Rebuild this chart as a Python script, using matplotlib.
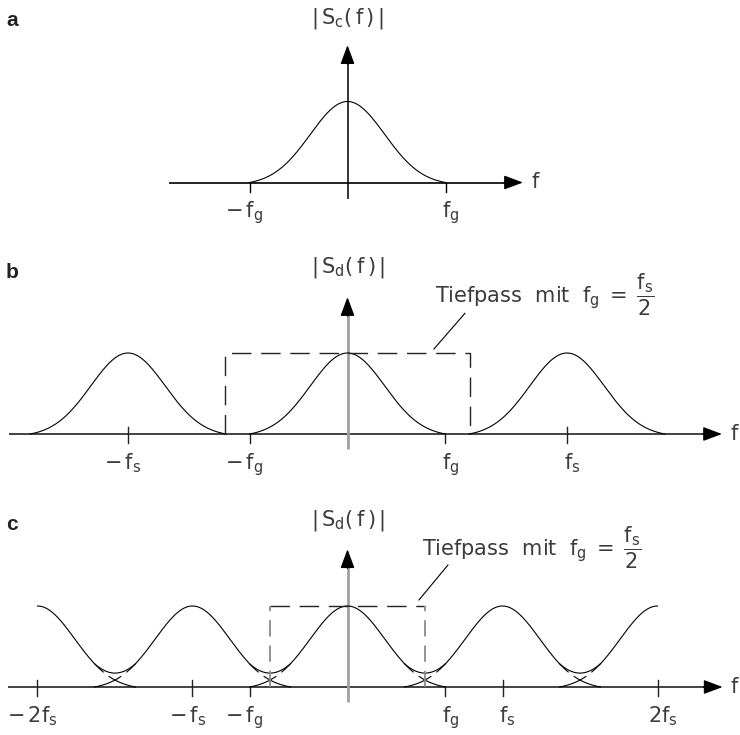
import numpy as np
import matplotlib
matplotlib.use("Agg")
import matplotlib.pyplot as plt

# ------------------------------------------------------------------
# Data
# ------------------------------------------------------------------
# panel a  (frequency unit: f_g)
a_centers = [0.0]
a_fg = 1.0
a_peak = 1.0
a_ticks = [-1.0, 1.0]
a_tick_cross = [False, False]
a_ticklabels = [r"$-\,\mathrm{f}_\mathrm{g}$", r"$\mathrm{f}_\mathrm{g}$"]
a_ylabel = r"$|\,\mathrm{S}_\mathrm{c}(\,\mathrm{f}\,)\,|$"

# panel b  (frequency unit: f_s)
b_centers = [-1.0, 0.0, 1.0]
b_fg = 0.446
b_peak = 1.0
b_lowpass_edge = 0.557
b_ticks = [-1.0, -0.446, 0.446, 1.0]
b_tick_cross = [True, False, False, True]
b_ticklabels = [r"$-\,\mathrm{f}_\mathrm{s}$", r"$-\,\mathrm{f}_\mathrm{g}$",
                r"$\mathrm{f}_\mathrm{g}$", r"$\mathrm{f}_\mathrm{s}$"]
b_ylabel = r"$|\,\mathrm{S}_\mathrm{d}(\,\mathrm{f}\,)\,|$"

# panel c  (frequency unit: f_s)
c_centers = [-2.0, -1.0, 0.0, 1.0, 2.0]
c_fg = 0.632
c_peak = 1.0
c_lowpass_edge = 0.5
c_ticks = [-2.0, -1.0, -0.632, 0.632, 1.0, 2.0]
c_tick_cross = [True, True, False, False, True, True]
c_ticklabels = [r"$-\,2\mathrm{f}_\mathrm{s}$", r"$-\,\mathrm{f}_\mathrm{s}$",
                r"$-\,\mathrm{f}_\mathrm{g}$", r"$\mathrm{f}_\mathrm{g}$",
                r"$\mathrm{f}_\mathrm{s}$", r"$2\mathrm{f}_\mathrm{s}$"]
c_ylabel = b_ylabel

pulse_sigma = 0.38          # width of the spectrum pulse (relative to f_g)
lowpass_text = (r"Tiefpass  mit  $\mathrm{f}_\mathrm{g}\;=\;"
                r"\dfrac{\mathrm{f}_\mathrm{s}}{2}$")

# ------------------------------------------------------------------
W, H, DPI = 740, 735, 100
plt.rcParams["font.family"] = ["DejaVu Sans"]
plt.rcParams["mathtext.fontset"] = "custom"
plt.rcParams["mathtext.rm"] = "DejaVu Sans"
plt.rcParams["mathtext.it"] = "DejaVu Sans"
TXT = "#3c3c3c"
FS = 15

fig = plt.figure(figsize=(W / DPI, H / DPI), dpi=DPI)
fig.patch.set_facecolor("white")


def pulse(x, center, fg, peak, sigma=pulse_sigma):
    u = (x - center) / fg
    e1 = np.exp(-1.0 / (2 * sigma ** 2))
    g = (np.exp(-u ** 2 / (2 * sigma ** 2)) - e1) / (1 - e1)
    return np.where(np.abs(u) <= 1, peak * g, 0.0)


def make_ax(top_px, bot_px, sx, base_px, sy=81.0, cx=347.5):
    ax = fig.add_axes([0, 1 - bot_px / H, 1, (bot_px - top_px) / H])
    ax.set_xlim(-cx / sx, (W - cx) / sx)
    ax.set_ylim(-(bot_px - base_px) / sy, (base_px - top_px) / sy)
    ax.axis("off")
    return ax, sx, sy


HEAD = "-|>,head_length=0.4,head_width=0.15"


def axes_frame(ax, sx, sy, xmin, xmax, ymin, ymax, flabel_x, yax_color, yax_lw,
               base_color, ticks, cross, labels, ylabel, ylabel_y):
    # x axis
    ax.plot([xmin, xmax - 15 / sx], [0, 0], color=base_color, lw=1.2,
            solid_capstyle="butt")
    ax.annotate("", xy=(xmax, 0), xytext=(xmax - 19 / sx, 0),
                arrowprops=dict(arrowstyle=HEAD, mutation_scale=29, lw=1.0,
                                color="black", shrinkA=0, shrinkB=0))
    ax.text(flabel_x, 0, r"$\mathrm{f}$", fontsize=FS, color=TXT,
            ha="center", va="center")
    # y axis
    head = 17 / sy
    ax.plot([0, 0], [ymin, ymax - head], color=yax_color, lw=yax_lw,
            solid_capstyle="butt")
    ax.annotate("", xy=(0, ymax), xytext=(0, ymax - head - 2 / sy),
                arrowprops=dict(arrowstyle=HEAD, mutation_scale=29, lw=1.0,
                                color="black", shrinkA=0, shrinkB=0))
    ax.text(0, ylabel_y, ylabel, fontsize=FS, color=TXT, ha="center", va="center")
    # ticks
    for t, cr, lab in zip(ticks, cross, labels):
        top = 7 / sy if cr else 0.0
        ax.plot([t, t], [top, -9 / sy], color=base_color, lw=1.0)
        dx = -5 if lab.startswith("$-") else 5
        ax.text(t + dx / sx, -17 / sy, lab, fontsize=FS, color=TXT,
                ha="center", va="top")


# ---------------- panel a ----------------
ax, sx, sy = make_ax(0, 245, 98.0, 182.5)
axes_frame(ax, sx, sy, -1.82, 1.79, -0.205, 1.695, 1.92, "black", 1.1, "black",
           a_ticks, a_tick_cross, a_ticklabels, a_ylabel, 2.03)
xa = np.linspace(-a_fg, a_fg, 400)
ya = sum(pulse(xa, c, a_fg, a_peak) for c in a_centers)
ax.plot(xa, ya, color="black", lw=0.8)

# ---------------- panel b ----------------
ax, sx, sy = make_ax(245, 497, 219.5, 434.0)
axes_frame(ax, sx, sy, -1.54, 1.706, -0.19, 1.69, 1.765, "#a0a0a0", 2.0, "#222222",
           b_ticks, b_tick_cross, b_ticklabels, b_ylabel, 2.05)
for c in b_centers:
    xb = np.linspace(c - b_fg, c + b_fg, 300)
    ax.plot(xb, pulse(xb, c, b_fg, b_peak), color="black", lw=0.8)
e = b_lowpass_edge
ax.plot([-e, -e, e, e], [0, b_peak, b_peak, 0], color="#222222", lw=1.0,
        dashes=(14, 7))
ax.plot([0.394, 0.535], [1.05, 1.49], color="black", lw=0.8)
ax.text(0.400, 1.617, lowpass_text, fontsize=FS, color=TXT, ha="left",
        va="baseline")

# ---------------- panel c ----------------
ax, sx, sy = make_ax(497, 735, 155.0, 687.0)
axes_frame(ax, sx, sy, -2.19, 2.42, -0.19, 1.70, 2.5, "#a0a0a0", 2.0, "#222222",
           c_ticks, c_tick_cross, c_ticklabels, c_ylabel, 2.06)
xc = np.linspace(c_centers[0], c_centers[-1], 1200)
yc = sum(pulse(xc, c, c_fg, c_peak) for c in c_centers)
ax.plot(xc, yc, color="black", lw=0.8)
# individual spectra in the overlap regions (drawn with a small gap)
for c0, c1 in zip(c_centers[:-1], c_centers[1:]):
    xo = np.linspace(c1 - c_fg, c0 + c_fg, 200)
    for cc in (c0, c1):
        yo = pulse(xo, cc, c_fg, c_peak)
        yo = np.where((yo > 0.13) & (yo < 0.185), np.nan, yo)
        ax.plot(xo, yo, color="black", lw=0.8)
e = c_lowpass_edge
ax.plot([-e, e], [c_peak, c_peak], color="#222222", lw=1.0, dashes=(14, 7))
ax.plot([-e, -e], [0, c_peak], color="#8a8a8a", lw=1.3, dashes=(9, 5))
ax.plot([e, e], [0, c_peak], color="#8a8a8a", lw=1.3, dashes=(9, 5))
ax.plot([0.461, 0.648], [1.074, 1.506], color="black", lw=0.8)
ax.text(0.478, 1.617, lowpass_text, fontsize=FS, color=TXT, ha="left",
        va="baseline")

# panel letters
for lab, ypx in (("a", 21), ("b", 273), ("c", 525)):
    fig.text(6 / W, 1 - ypx / H, lab, fontsize=15, fontweight="bold",
             family="Liberation Sans", color="#222222", ha="left", va="center")

fig.savefig("out.png", dpi=DPI, facecolor="white")
